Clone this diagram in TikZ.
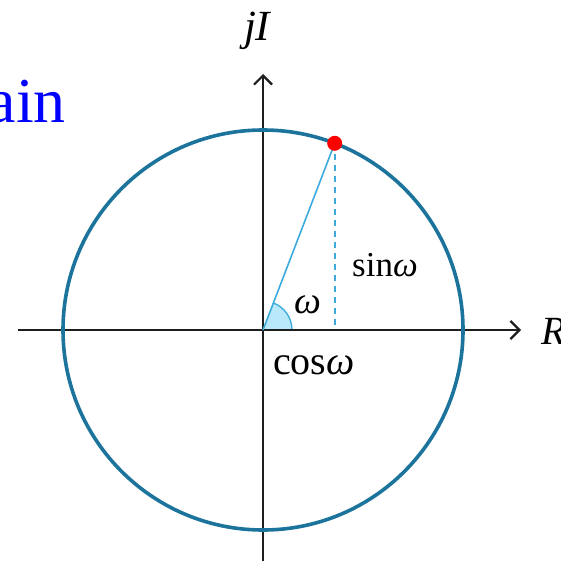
\documentclass[tikz,border=0pt]{standalone}
\usepackage{fontspec}
\setmainfont{Liberation Serif}
\usetikzlibrary{arrows.meta}
\definecolor{circ}{RGB}{28,116,156}
\definecolor{rad}{RGB}{60,170,220}
\definecolor{wedge}{RGB}{185,232,250}
\definecolor{axis}{RGB}{30,30,30}
\tikzset{
  axisline/.style={draw=axis, line width=2.2pt, -{Straight Barb[length=9pt,width=18pt,line width=2.2pt]}},
  lbl/.style={inner sep=0pt, font=\fontsize{40}{46}\selectfont},
}
\begin{document}
\begin{tikzpicture}[x=1pt,y=-1pt]
\useasboundingbox (0,0) rectangle (561,561);
\coordinate (O) at (263,330);
% wedge
\fill[wedge] (O) -- ++(29,0) arc[start angle=0,end angle=-69,radius=29] -- cycle;
\draw[rad, line width=1.3pt] (O) ++(29,0) arc[start angle=0,end angle=-69,radius=29];
% axes
\coordinate (xl) at (18,330);
\coordinate (xr) at (521,330);
\coordinate (yb) at (263,561);
\coordinate (yt) at (263,74);
\draw[axisline] (xl) -- (xr);
\draw[axisline] (yb) -- (yt);
% circle
\draw[circ, line width=3.6pt] (O) circle[radius=200];
% radius & projection
\coordinate (Pp) at (334.7,143.3);
\coordinate (Q) at (334.7,330);
\draw[rad, line width=1.6pt] (O) -- (Pp);
\draw[rad, line width=1.6pt, dash pattern=on 6pt off 5pt] (Pp) -- (Q);
\fill[red] (Pp) circle[radius=7.5];
% labels
\node[lbl, font=\fontsize{43}{50}\selectfont] (jI) at (258,31) {\textit{jI}};
\node[lbl, anchor=west] (R) at (541,331) {\textit{R}};
\node[lbl, font=\fontsize{38}{44}\selectfont] (w) at (308,305) {\textit{ω}};
\node[lbl, font=\fontsize{35}{40}\selectfont] (s) at (385,265) {sin\textit{ω}};
\node[lbl, font=\fontsize{40}{46}\selectfont] (c) at (314,365) {cos\textit{ω}};
\node[lbl, text=blue, anchor=base east, font=\fontsize{64}{70}\selectfont] (ain) at (66,123) {ain};
\end{tikzpicture}
\end{document}
